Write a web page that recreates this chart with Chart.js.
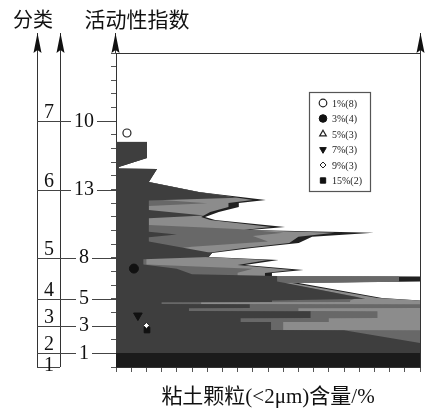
<!DOCTYPE html>
<html>
<head>
<meta charset="utf-8">
<script src="https://cdn.jsdelivr.net/npm/chart.js@4.4.0/dist/chart.umd.min.js"></script>
<style>
html, body { margin: 0; padding: 0; background: #fff; }
</style>
</head>
<body>
<canvas id="c" width="430" height="410"></canvas>
<script>
// classification column (分类) and activity index (活动性指数), positions on the depth axis
var class_names = ["7", "6", "5", "4", "3", "2", "1"]
var class_bottoms = [18, 13, 8, 5, 3, 1, 0]
var activity_names = ["10", "13", "8", "5", "3", "1"]
var activity_pos = [18, 13, 8, 5, 3, 1]

// clay content profiles (x = %, y = depth position 0..23)
var outer_y = [16.50, 15.31, 14.65, 14.54, 14.50, 13.55, 12.82, 12.23, 12.01, 11.72, 11.35, 10.99, 10.77, 10.26, 10.04, 9.84, 9.54, 9.08, 8.72, 8.35, 8.06, 7.84, 7.47, 7.11, 6.89, 6.67, 6.63, 6.26, 6.15, 5.05, 4.87, 0]
var outer_x = [10.2, 10.2, 0.9, 0.9, 13.5, 10.8, 27.2, 49.3, 40.4, 40.4, 33.8, 29.3, 32.6, 55.6, 44.1, 84.8, 64.5, 60.1, 44.7, 31.6, 30.5, 53.5, 42.4, 61.7, 51.3, 51.3, 100, 100, 60.1, 87.5, 100, 100]

var light_y = [13.55, 12.82, 12.23, 12.01, 11.72, 11.35, 10.99, 10.77, 10.26, 10.04, 9.84, 9.54, 9.08, 8.72, 8.35, 8.06, 7.84, 7.47, 7.11, 6.89, 6.67, 6.63, 6.26, 6.15, 5.05, 4.87, 0]
var light_x = [10.8, 27.2, 45, 37, 37, 31, 28, 31, 51, 42, 72, 60, 57, 42, 30, 29.5, 50, 40, 58, 49, 49, 93, 93, 58, 86, 100, 100]

var mid_y = [13.55, 12.30, 12.00, 11.80, 10.40, 10.10, 9.84, 9.60, 9.20, 8.80, 8.40, 7.50, 7.20, 6.90, 6.67, 6.63, 6.26, 6.15, 5.10, 4.87, 4.76, 4.75, 4.61, 4.60, 4.32, 4.31, 4.10, 4.09, 3.59, 3.58, 3.30, 3.29, 2.71, 2.70, 0]
var mid_x = [10.8, 10.8, 30, 10.8, 10.8, 40, 55, 45, 50, 25, 10, 10, 45, 40, 40, 93, 93, 55, 80, 77, 77, 28, 28, 100, 100, 60, 60, 86, 86, 70, 70, 55, 55, 100, 100]

var dark_y = [16.50, 15.31, 14.65, 14.54, 14.50, 13.55, 12.82, 12.40, 12.20, 11.50, 11.10, 10.90, 9.90, 9.70, 9.50, 9.20, 8.35, 8.06, 7.90, 7.50, 7.20, 6.80, 6.67, 6.26, 6.10, 5.00, 4.87, 4.76, 4.75, 4.61, 4.60, 4.32, 4.31, 4.10, 4.09, 3.59, 3.58, 3.30, 3.29, 2.71, 2.70, 1.75, 0]
var dark_x = [10.2, 10.2, 0.9, 0.9, 13.5, 10.8, 27.2, 40, 10.8, 10.8, 29, 10.8, 10.8, 20, 10.8, 10.8, 31.6, 30.5, 9, 9, 20, 25, 53, 53, 57, 82, 51.3, 51.3, 15, 15, 44, 44, 24, 24, 64, 64, 41, 41, 51, 51, 75, 100, 100]

var band_y = [1.03, 0]
var band_x = [100, 100]

// sample markers
var legend_names = ["1%(8)", "3%(4)", "5%(3)", "7%(3)", "9%(3)", "15%(2)"]
var marker_x = [[3.6], [5.9], [], [7.2], [10.0], [10.2]]
var marker_y = [[17.14], [7.21], [], [3.77], [3.04], [2.71]]

var marker_styles = [
    {style: 'circle', r: 4, bg: '#fff', line: '#222', bw: 1.2, rot: 0},
    {style: 'circle', r: 4.5, bg: '#111', line: '#111', bw: 1, rot: 0},
    {style: 'triangle', r: 4.5, bg: '#fff', line: '#222', bw: 1.2, rot: 0},
    {style: 'triangle', r: 5, bg: '#111', line: '#111', bw: 1, rot: 180},
    {style: 'rectRot', r: 3, bg: '#fff', line: '#222', bw: 1, rot: 0},
    {style: 'rect', r: 4, bg: '#111', line: '#111', bw: 1, rot: 0}
]

function toPoints(xs, ys) {
    return xs.map(function (x, i) { return {x: x, y: ys[i]} })
}

function areaSet(xs, ys, color) {
    return {
        type: 'line',
        data: toPoints(xs, ys),
        fill: 'origin',
        backgroundColor: color,
        borderWidth: 0,
        pointRadius: 0,
        tension: 0
    }
}

var datasets = []
for (var i = 0; i < legend_names.length; i++) {
    var s = marker_styles[i]
    datasets.push({
        type: 'line',
        label: legend_names[i],
        data: toPoints(marker_x[i], marker_y[i]),
        showLine: false,
        fill: false,
        pointStyle: s.style,
        pointRadius: s.r,
        pointBackgroundColor: s.bg,
        pointBorderColor: s.line,
        pointBorderWidth: s.bw,
        pointRotation: s.rot
    })
}
datasets.push(areaSet(band_x, band_y, '#1b1b1b'))
datasets.push(areaSet(dark_x, dark_y, '#3e3e3e'))
datasets.push(areaSet(mid_x, mid_y, '#686868'))
datasets.push(areaSet(light_x, light_y, '#8c8c8c'))
datasets.push(areaSet(outer_x, outer_y, '#202020'))

function drawArrow(ctx, x, tip, base) {
    ctx.beginPath()
    ctx.moveTo(x, tip)
    ctx.lineTo(x - 4, base)
    ctx.lineTo(x, base - 3)
    ctx.lineTo(x + 4, base)
    ctx.closePath()
    ctx.fill()
}

var framePlugin = {
    id: 'frame',
    afterDraw: function (chart) {
        var ctx = chart.ctx
        var area = chart.chartArea
        var ys = chart.scales.y
        var xa = 37, xb = 60
        var tip = 33
        ctx.save()
        ctx.strokeStyle = '#333'
        ctx.fillStyle = '#111'
        ctx.lineWidth = 1

        // top and right of the plot box
        ctx.beginPath()
        ctx.moveTo(area.left, area.top + 0.5)
        ctx.lineTo(area.right, area.top + 0.5)
        ctx.moveTo(area.right + 0.5, area.top)
        ctx.lineTo(area.right + 0.5, area.bottom)
        ctx.moveTo(area.left - 0.5, tip)
        ctx.lineTo(area.left - 0.5, area.top)
        ctx.moveTo(area.right + 0.5, tip)
        ctx.lineTo(area.right + 0.5, area.top)
        // the two class columns
        ctx.moveTo(xa + 0.5, tip)
        ctx.lineTo(xa + 0.5, area.bottom)
        ctx.moveTo(xb + 0.5, tip)
        ctx.lineTo(xb + 0.5, area.bottom)
        ctx.stroke()

        drawArrow(ctx, xa + 0.5, tip, area.top)
        drawArrow(ctx, xb + 0.5, tip, area.top)
        drawArrow(ctx, area.left - 0.5, tip, area.top)
        drawArrow(ctx, area.right + 0.5, tip, area.top)

        // class boundaries
        ctx.strokeStyle = '#444'
        ctx.beginPath()
        for (var i = 0; i < class_bottoms.length; i++) {
            var y = Math.round(ys.getPixelForValue(class_bottoms[i])) + 0.5
            ctx.moveTo(xa, y)
            ctx.lineTo(class_bottoms[i] == 0 ? xb : area.left, y)
        }
        ctx.stroke()

        ctx.font = "20px 'Liberation Serif'"
        ctx.textAlign = 'center'
        ctx.textBaseline = 'alphabetic'
        ctx.fillStyle = '#111'
        for (var i = 0; i < class_names.length; i++) {
            var y = ys.getPixelForValue(class_bottoms[i])
            var base = i == class_names.length - 1 ? y + 4 : y - 3
            ctx.fillText(class_names[i], 49, base)
        }

        // activity index labels sitting on the boundary lines
        ctx.textBaseline = 'middle'
        for (var i = 0; i < activity_names.length; i++) {
            var y = ys.getPixelForValue(activity_pos[i])
            var w = ctx.measureText(activity_names[i]).width
            ctx.fillStyle = '#fff'
            ctx.fillRect(84 - w / 2 - 3, y - 7, w + 6, 14)
            ctx.fillStyle = '#111'
            ctx.fillText(activity_names[i], 84, y)
        }

        // headers and axis title
        ctx.font = "20px 'Noto Sans CJK SC'"
        ctx.fillText('分类', 33, 19)
        ctx.font = "21px 'Noto Sans CJK SC'"
        ctx.fillText('活动性指数', 137, 19)
        ctx.font = "21px 'Liberation Serif', 'Noto Sans CJK SC'"
        ctx.fillText('粘土颗粒(<2μm)含量/%', (area.left + area.right) / 2, 397)

        // legend box
        var lx = area.right - 111, ly = area.top + 39
        ctx.fillStyle = '#fff'
        ctx.fillRect(lx, ly, 61, 99)
        ctx.strokeStyle = '#555'
        ctx.lineWidth = 1.2
        ctx.strokeRect(lx + 0.5, ly + 0.5, 61, 99)
        ctx.font = "10px 'Liberation Serif'"
        ctx.textAlign = 'left'
        for (var i = 0; i < legend_names.length; i++) {
            var s = marker_styles[i]
            var ry = ly + 11 + i * 15.5
            ctx.fillStyle = s.bg
            ctx.strokeStyle = s.line
            ctx.lineWidth = s.bw
            Chart.helpers.drawPoint(ctx, {pointStyle: s.style, radius: Math.min(s.r, 3.8), rotation: s.rot, borderWidth: s.bw}, lx + 14, ry)
            ctx.fillStyle = '#222'
            ctx.fillText(legend_names[i], lx + 23, ry + 1)
        }
        ctx.restore()
    }
}

new Chart(document.getElementById('c'), {
    type: 'line',
    data: {datasets: datasets},
    options: {
        indexAxis: 'y',
        responsive: false,
        animation: false,
        events: [],
        layout: {padding: {left: 111, right: 10, top: 53, bottom: 38}},
        plugins: {
            legend: {display: false},
            tooltip: {enabled: false}
        },
        scales: {
            x: {
                type: 'linear',
                position: 'bottom',
                min: 0,
                max: 100,
                ticks: {display: false, stepSize: 5, maxTicksLimit: 100},
                grid: {drawOnChartArea: false, tickLength: 5, color: '#555'},
                border: {color: '#333'}
            },
            y: {
                type: 'linear',
                position: 'left',
                min: 0,
                max: 23,
                ticks: {display: false, stepSize: 1, maxTicksLimit: 100},
                grid: {drawOnChartArea: false, tickLength: 5, color: '#555'},
                border: {color: '#333'}
            }
        }
    },
    plugins: [framePlugin]
})
</script>
</body>
</html>
